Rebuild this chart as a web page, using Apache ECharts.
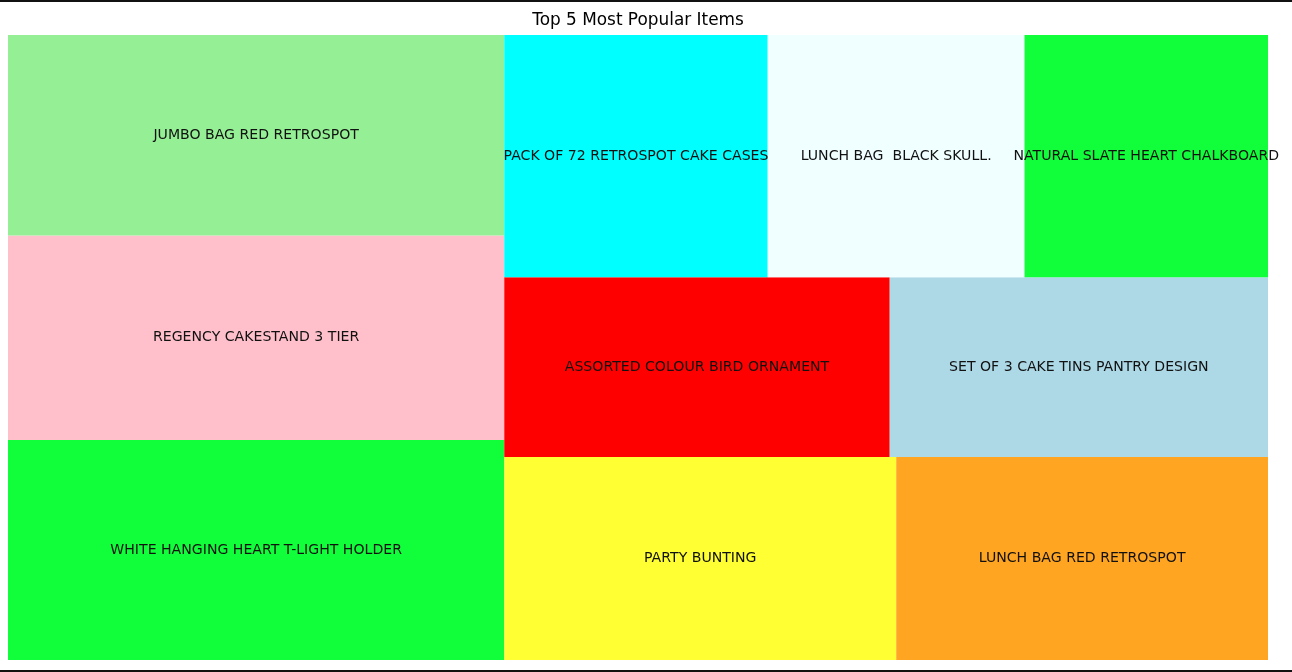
<!DOCTYPE html>
<html>
<head>
<meta charset="utf-8">
<script src="https://cdn.jsdelivr.net/npm/echarts@6/dist/echarts.min.js"></script>
<style>
html,body{margin:0;padding:0;background:#fff;}
#chart{width:1292px;height:672px;}
</style>
</head>
<body>
<div id="chart"></div>
<script>
// ---- data ----
const items = [
  'WHITE HANGING HEART T-LIGHT HOLDER',
  'REGENCY CAKESTAND 3 TIER',
  'JUMBO BAG RED RETROSPOT',
  'PARTY BUNTING',
  'LUNCH BAG RED RETROSPOT',
  'ASSORTED COLOUR BIRD ORNAMENT',
  'SET OF 3 CAKE TINS PANTRY DESIGN',
  'PACK OF 72 RETROSPOT CAKE CASES',
  'LUNCH BAG  BLACK SKULL.',
  'NATURAL SLATE HEART CHALKBOARD'
];
const counts = [2369, 2200, 2159, 1727, 1638, 1501, 1473, 1385, 1350, 1280];
const colors = ['#10FF3A', '#FFC0CB', '#95F095', '#FFFF33', '#FFA522',
                '#FF0000', '#ADD8E6', '#00FFFF', '#F0FFFF', '#10FF3A'];
const titleText = 'Top 5 Most Popular Items';

// ---- squarify layout (normalized 100 x 100 space, y up) ----
function sum(a){return a.reduce((s,v)=>s+v,0);}
function normalizeSizes(sizes, dx, dy){const t=sum(sizes);return sizes.map(s=>s*dx*dy/t);}
function layoutrow(sizes,x,y,dx,dy){const w=sum(sizes)/dy;return sizes.map(s=>{const r={x:x,y:y,dx:w,dy:s/w};y+=s/w;return r;});}
function layoutcol(sizes,x,y,dx,dy){const h=sum(sizes)/dx;return sizes.map(s=>{const r={x:x,y:y,dx:s/h,dy:h};x+=s/h;return r;});}
function layout(sizes,x,y,dx,dy){return dx>=dy?layoutrow(sizes,x,y,dx,dy):layoutcol(sizes,x,y,dx,dy);}
function leftover(sizes,x,y,dx,dy){
  if(dx>=dy){const w=sum(sizes)/dy;return [x+w,y,dx-w,dy];}
  const h=sum(sizes)/dx;return [x,y+h,dx,dy-h];
}
function worst(sizes,x,y,dx,dy){return Math.max(...layout(sizes,x,y,dx,dy).map(r=>Math.max(r.dx/r.dy,r.dy/r.dx)));}
function squarify(sizes,x,y,dx,dy){
  if(sizes.length===0)return [];
  if(sizes.length===1)return layout(sizes,x,y,dx,dy);
  let i=1;
  while(i<sizes.length && worst(sizes.slice(0,i),x,y,dx,dy)>=worst(sizes.slice(0,i+1),x,y,dx,dy)) i++;
  const cur=sizes.slice(0,i), rem=sizes.slice(i);
  const lo=leftover(cur,x,y,dx,dy);
  return layout(cur,x,y,dx,dy).concat(squarify(rem,lo[0],lo[1],lo[2],lo[3]));
}
const rects = squarify(normalizeSizes(counts,100,100),0,0,100,100);
const seriesData = rects.map((r,i)=>({value:[r.x,r.y,r.dx,r.dy,counts[i]],name:items[i]}));

const chart = echarts.init(document.getElementById('chart'), null, {renderer:'canvas'});
chart.setOption({
  animation:false,
  backgroundColor:'#fff',
  grid:{left:8,right:24,top:35,bottom:12},
  xAxis:{type:'value',min:0,max:100,show:false},
  yAxis:{type:'value',min:0,max:100,show:false},
  graphic:[
    {type:'rect',shape:{x:0,y:0,width:1292,height:2},style:{fill:'#111'},z:100},
    {type:'rect',shape:{x:0,y:670,width:1292,height:2},style:{fill:'#111'},z:100},
    {type:'text',z:100,style:{text:titleText,x:638,y:20.5,align:'center',verticalAlign:'middle',
      fill:'#000',font:'16.9px "DejaVu Sans"'}}
  ],
  series:[{
    type:'custom',
    coordinateSystem:'cartesian2d',
    data:seriesData,
    encode:{x:0,y:1},
    renderItem:function(params,api){
      const x=api.value(0),y=api.value(1),w=api.value(2),h=api.value(3);
      const p0=api.coord([x,y+h]);
      const p1=api.coord([x+w,y]);
      const idx=params.dataIndex;
      return {type:'group',children:[
        {type:'rect',shape:{x:p0[0],y:p0[1],width:p1[0]-p0[0],height:p1[1]-p0[1]},
          style:{fill:colors[idx]},z2:0},
        {type:'text',z2:100,style:{text:items[idx],x:(p0[0]+p1[0])/2,y:(p0[1]+p1[1])/2,
          align:'center',verticalAlign:'middle',fill:'#111',
          font:'14.1px "DejaVu Sans"'}}
      ]};
    }
  }]
});
</script>
</body>
</html>
